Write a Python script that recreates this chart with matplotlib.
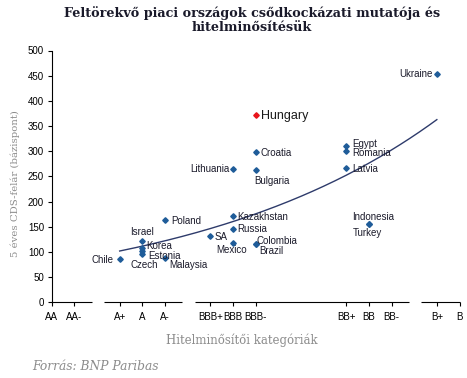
import numpy as np
import matplotlib
matplotlib.use("Agg")
import matplotlib.pyplot as plt

# ---- data ----
rating_labels = ["AA", "AA-", "A+", "A", "A-", "BBB+", "BBB", "BBB-", "BB+", "BB", "BB-", "B+", "B"]
rating_pos = [0, 1, 3, 4, 5, 7, 8, 9, 13, 14, 15, 17, 18]
y_ticks = [0, 50, 100, 150, 200, 250, 300, 350, 400, 450, 500]

countries = ["Chile", "Israel", "Korea", "Estonia", "Czech", "Poland", "Malaysia", "SA",
             "Kazakhstan", "Russia", "Mexico", "Lithuania", "Colombia", "Brazil", "Croatia",
             "Bulgaria", "Hungary", "Egypt", "Romania", "Latvia", "Indonesia", "Turkey", "Ukraine"]
country_rating = ["A+", "A", "A", "A", "A", "A-", "A-", "BBB+",
                  "BBB", "BBB", "BBB", "BBB", "BBB-", "BBB-", "BBB-",
                  "BBB-", "BBB-", "BB+", "BB+", "BB+", "BB", "BB", "B+"]
cds_spread = [86, 122, 108, 101, 95, 163, 87, 132,
              171, 146, 118, 265, 116, 116, 298,
              263, 372, 310, 301, 266, 155, 155, 453]

# label placement (pixel offsets, alignment)
label_offsets = {
    "Chile": (-6, -1, "right", "center"),
    "Israel": (0, 9, "center", "center"),
    "Korea": (4, 1.5, "left", "center"),
    "Estonia": (6, -4.5, "left", "center"),
    "Czech": (2, -10.5, "center", "center"),
    "Poland": (6, -0.5, "left", "center"),
    "Malaysia": (4, -7, "left", "center"),
    "SA": (4, -1, "left", "center"),
    "Kazakhstan": (4, -0.5, "left", "center"),
    "Russia": (4, 0, "left", "center"),
    "Mexico": (-1, -7.5, "center", "center"),
    "Lithuania": (-3, 0, "right", "center"),
    "Colombia": (1, 3, "left", "center"),
    "Brazil": (4, -7, "left", "center"),
    "Croatia": (5, -1, "left", "center"),
    "Bulgaria": (-1, -11, "left", "center"),
    "Hungary": (5, -1, "left", "center"),
    "Egypt": (6, 2.5, "left", "center"),
    "Romania": (6, -2, "left", "center"),
    "Latvia": (6, -0.5, "left", "center"),
    "Indonesia": (4, 7, "center", "center"),
    "Turkey": (-1, -9, "center", "center"),
    "Ukraine": (-4, 0, "right", "center"),
}

pos_of = dict(zip(rating_labels, rating_pos))
xs = np.array([pos_of[r] for r in country_rating], dtype=float)
ys = np.array(cds_spread, dtype=float)

# exponential trendline (least squares on log values)
b, lna = np.polyfit(xs, np.log(ys), 1)
xt = np.linspace(xs.min(), xs.max(), 200)
yt = np.exp(lna) * np.exp(b * xt)

W, H, DPI = 467, 378, 100
fig = plt.figure(figsize=(W / DPI, H / DPI), dpi=DPI)
ax = fig.add_axes([51.7 / W, 1 - 302.3 / H, (459.5 - 51.7) / W, (302.3 - 50.5) / H])

blue = "#1F5C99"
ax.plot(xt, yt, color="#2E3B6B", lw=1.0, zorder=2)
for name, x, y in zip(countries, xs, ys):
    col = "#E8141B" if name == "Hungary" else blue
    ax.plot(x, y, marker="D", ms=2.8, color=col, mec=col, ls="none", zorder=3, clip_on=False)
    dx, dy, ha, va = label_offsets[name]
    ax.annotate(name, (x, y), xytext=(dx * 0.72, dy * 0.72), textcoords="offset points",
                ha=ha, va=va, fontsize=9 if name == "Hungary" else 7,
                family="Liberation Sans",
                color="#1a1a1a" if name == "Hungary" else "#1b1b2b", zorder=4)

ax.set_xlim(0, 18)
ax.set_ylim(0, 500)
ax.set_yticks(y_ticks)
ax.set_xticks(rating_pos)
ax.set_xticklabels(rating_labels)
for lab in ax.get_xticklabels() + ax.get_yticklabels():
    lab.set_family("Liberation Sans")
    lab.set_fontsize(7)
ax.tick_params(axis="both", direction="out", length=3, width=0.8, colors="black")
ax.tick_params(axis="x", pad=4)
ax.tick_params(axis="y", pad=2.5)

for s in ["top", "right", "bottom"]:
    ax.spines[s].set_visible(False)
ax.spines["left"].set_linewidth(0.8)

# broken x axis line
segments = [(0, 1.77), (2.31, 5.74), (6.33, 15.77), (16.3, 18)]
for x0, x1 in segments:
    ax.plot([x0, x1], [0, 0], color="black", lw=0.8, clip_on=False, zorder=1,
            solid_capstyle="butt")

fig.text(252 / W, 1 - 20 / H, "Feltörekvő piaci országok csődkockázati mutatója és\nhitelminősítésük",
         ha="center", va="center", fontsize=9.2, fontweight="bold", family="DejaVu Serif",
         color="#1a1a2a", linespacing=1.15)
fig.text(15 / W, 1 - 183.5 / H, "5 éves CDS-felár (bázispont)", rotation=90, ha="center", va="center",
         fontsize=7.3, family="DejaVu Serif", color="#8c8c8c")
fig.text(242 / W, 1 - 340 / H, "Hitelminősítői kategóriák", ha="center", va="center",
         fontsize=8.5, family="DejaVu Serif", color="#8c8c8c")
fig.text(32 / W, 1 - 367 / H, "Forrás: BNP Paribas", ha="left", va="center",
         fontsize=8.8, family="DejaVu Serif", style="italic", color="#8c8c8c")

fig.savefig("out.png", dpi=DPI)
